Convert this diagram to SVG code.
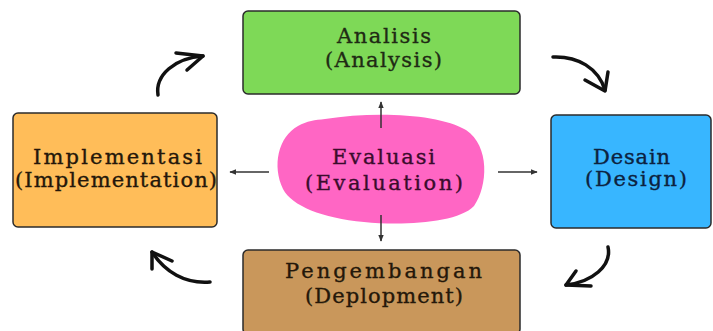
<svg xmlns="http://www.w3.org/2000/svg" width="713" height="331" viewBox="0 0 713 331">
<defs>
<marker id="tip" viewBox="0 0 10 10" refX="9" refY="5" markerWidth="7" markerHeight="7" orient="auto" markerUnits="userSpaceOnUse">
<path d="M0,1 L10,5 L0,9 Z" fill="#333"/>
</marker>
</defs>
<style>
.box{stroke:#2b2b2b;stroke-width:1.5}
.t{font-family:"DejaVu Serif","Liberation Serif",serif;font-size:21px;text-anchor:middle;stroke-width:0.35}
.g{fill:#1f2a14;stroke:#1f2a14}
.b{fill:#0c2240;stroke:#0c2240}
.br{fill:#24170a;stroke:#24170a}
.p{fill:#3a0c2c;stroke:#3a0c2c}
.st{stroke:#333;stroke-width:1.5;fill:none}
.cv{stroke:#111;stroke-width:3.5;fill:none;stroke-linecap:round;stroke-linejoin:round}
</style>
<rect width="713" height="331" fill="#ffffff"/>
<g id="analisis">
<rect class="box" x="243" y="11" width="277" height="83" rx="5" fill="#7ed957"/>
<text class="t g" x="384" y="43" textLength="94" lengthAdjust="spacing">Analisis</text>
<text class="t g" x="383.5" y="67" textLength="117" lengthAdjust="spacing">(Analysis)</text>
</g>
<g id="desain">
<rect class="box" x="551" y="115" width="160" height="113" rx="5" fill="#38b6ff"/>
<text class="t b" x="631.5" y="164" textLength="77" lengthAdjust="spacing">Desain</text>
<text class="t b" x="636" y="186" textLength="102" lengthAdjust="spacing">(Design)</text>
</g>
<g id="pengembangan">
<rect class="box" x="243" y="250" width="277" height="84" rx="5" fill="#c9975b"/>
<text class="t br" x="383.5" y="278" textLength="197" lengthAdjust="spacing">Pengembangan</text>
<text class="t br" x="384" y="303" textLength="158" lengthAdjust="spacing">(Deplopment)</text>
</g>
<g id="implementasi">
<rect class="box" x="13" y="113" width="204" height="114" rx="5" fill="#ffbd59"/>
<text class="t br" x="117.5" y="164" textLength="169" lengthAdjust="spacing">Implementasi</text>
<text class="t br" x="116" y="187" textLength="202" lengthAdjust="spacing">(Implementation)</text>
</g>
<g id="evaluasi">
<path d="M325,119 C375,111 440,114 466,130 C490,146 488,186 474,206 C458,223 402,226 364,222 C322,218 292,206 283,189 C272,166 278,137 298,126 C307,121 315,120 325,119 Z" fill="#ff66c4"/>
<text class="t p" x="383.5" y="164" textLength="103" lengthAdjust="spacing">Evaluasi</text>
<text class="t p" x="384" y="190" textLength="158" lengthAdjust="spacing">(Evaluation)</text>
</g>
<g id="connectors">
<line class="st" x1="381" y1="128" x2="381" y2="102" marker-end="url(#tip)"/>
<line class="st" x1="381" y1="215" x2="381" y2="241" marker-end="url(#tip)"/>
<line class="st" x1="269" y1="172" x2="230" y2="172" marker-end="url(#tip)"/>
<line class="st" x1="498" y1="172" x2="537" y2="172" marker-end="url(#tip)"/>
<path class="cv" d="M158,95 C155,75 175,58 203,56"/>
<path class="cv" d="M176,53 L203,56 L187,70"/>
<path class="cv" d="M553,57 C578,56 598,68 605,90"/>
<path class="cv" d="M585,80 L605,91 L608,72"/>
<path class="cv" d="M608,247 C612,266 592,282 566,285"/>
<path class="cv" d="M576,271 L566,285 L591,286"/>
<path class="cv" d="M210,282 C185,284 165,272 152,252"/>
<path class="cv" d="M152,269 L152,252 L172,261"/>
</g>
</svg>
